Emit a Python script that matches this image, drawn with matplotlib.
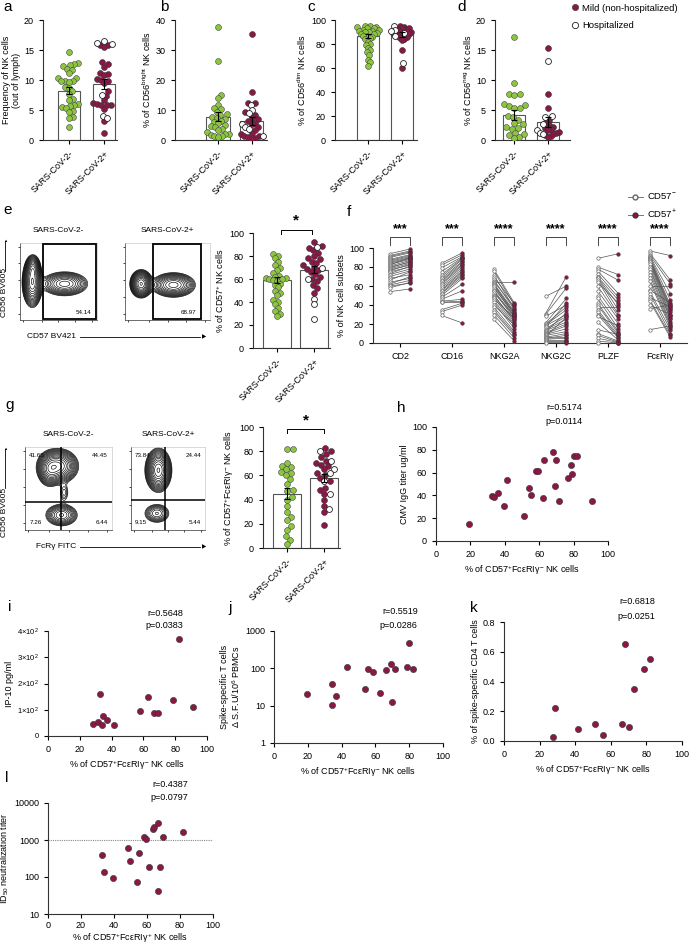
import numpy as np
import matplotlib
matplotlib.use("Agg")
import matplotlib.pyplot as plt
from matplotlib.lines import Line2D
from matplotlib.patches import Rectangle

plt.rcParams.update({
    "font.family": ["Liberation Sans", "DejaVu Sans"],
    "mathtext.fontset": "custom",
    "mathtext.rm": "Liberation Sans",
    "mathtext.default": "regular",
    "font.size": 6.5,
    "axes.linewidth": 0.8,
    "axes.edgecolor": "#333333",
    "xtick.major.width": 0.8,
    "ytick.major.width": 0.8,
    "xtick.major.size": 3,
    "ytick.major.size": 3,
    "xtick.labelsize": 6.5,
    "ytick.labelsize": 6.5,
    "axes.spines.top": False,
    "axes.spines.right": False,
})

GREEN = "#8CC63F"
MAROON = "#8A1846"
W, H = 689, 944

groups = ["SARS-CoV-2-", "SARS-CoV-2+"]

# ---- panel a: frequency of NK cells
a_neg = [14.6, 12.8, 12.7, 12.5, 12.3, 11.9, 11.6, 11.1, 10.4, 10.3, 9.9, 9.9, 9.8, 9.7, 8.8,
         8.7, 8.1, 7.6, 6.8, 6.6, 6.0, 5.9, 5.6, 5.5, 5.4, 4.9, 4.7, 3.9, 3.6, 2.1]
a_mild = [15.9, 15.9, 15.5, 13.0, 12.6, 12.2, 11.2, 11.0, 10.8, 10.2, 10.0, 9.8, 9.5, 8.2,
          7.4, 6.6, 6.1, 6.0, 5.9, 5.8, 5.8, 5.2, 3.1, 1.1]
a_hosp = [16.5, 16.2, 16.0, 7.5, 4.0, 3.6]
a_means = [8.2, 9.3]

# ---- panel b: CD56 bright
b_neg = [37.8, 26.2, 15.1, 14.0, 11.8, 10.6, 10.2, 9.5, 8.6, 8.3, 7.7, 7.4, 7.0, 6.5, 6.0,
         5.6, 5.0, 4.6, 4.2, 3.8, 3.3, 2.6, 2.1, 1.9, 1.7, 1.5, 1.2, 0.9]
b_mild = [35.5, 16.0, 12.4, 12.2, 9.5, 8.5, 7.5, 7.0, 6.2, 5.8, 5.2, 4.5, 3.5, 2.5, 2.0,
          1.5, 1.2, 1.0, 0.8, 0.5]
b_hosp = [11.8, 10.0, 8.9, 5.3, 4.2, 3.8, 1.5]
b_means = [7.8, 6.2]

# ---- panel c: CD56 dim
c_neg = [95, 95, 94, 94, 93, 93, 92, 92, 91, 91, 90, 90, 89, 88, 88, 87, 87, 86, 85, 84,
         82, 80, 79, 77, 75, 73, 71, 67, 65, 62]
c_mild = [95, 94, 93, 93, 92, 91, 90, 90, 89, 88, 88, 87, 86, 85, 84, 83, 75, 60]
c_hosp = [95, 92, 91, 89, 87, 64]
c_means = [87, 88]

# ---- panel d: CD56 neg
d_neg = [17.1, 9.5, 7.7, 7.6, 7.5, 6.0, 5.8, 5.6, 5.4, 5.3, 4.0, 3.8, 3.4, 2.8, 2.6, 2.2,
         2.0, 1.9, 1.2, 1.0, 0.8, 0.5, 0.3]
d_mild = [15.4, 7.6, 5.3, 3.4, 3.0, 2.5, 2.2, 2.0, 1.8, 1.6, 1.3, 1.2, 1.0, 0.8, 0.7, 0.5]
d_hosp = [13.1, 4.0, 3.8, 2.6, 1.6, 1.2, 1.0]
d_means = [4.2, 3.0]

# ---- panel e: CD57+ NK cells
e_neg = [82, 80, 78, 75, 72, 70, 68, 65, 63, 62, 61, 61, 60, 60, 59, 58, 56, 55, 53, 50,
         48, 46, 42, 40, 38, 35, 32, 30, 28]
e_mild = [92, 89, 87, 85, 83, 80, 78, 77, 75, 74, 72, 70, 69, 68, 66, 64, 62, 60, 58, 55,
          52, 48]
e_hosp = [88, 70, 60, 43, 38, 25]
e_means = [59, 68]

# ---- panel g: CD57+ FceRIg- NK cells
g_neg = [82, 82, 70, 68, 67, 65, 63, 62, 60, 57, 53, 48, 47, 42, 40, 35, 30, 26, 23, 18,
         15, 10, 7, 3]
g_mild = [83, 80, 78, 75, 72, 70, 69, 68, 65, 62, 60, 58, 55, 50, 48, 45, 40, 35, 30, 19]
g_hosp = [80, 72, 65, 62, 55, 45, 32]
g_means = [45, 58]

# ---- panel f: paired CD57- / CD57+ subsets
f_markers = ["CD2", "CD16", "NKG2A", "NKG2C", "PLZF", "FcεRIγ"]
f_stars = ["***", "***", "****", "****", "****", "****"]
f_neg = [
    [94, 92, 91, 90, 88, 87, 86, 85, 84, 83, 82, 81, 80, 79, 78, 77, 76, 75, 73, 72, 70, 68,
     66, 64, 62, 61, 60, 58, 54],
    [84, 82, 79, 75, 72, 70, 68, 66, 65, 63, 62, 60, 58, 56, 55, 53, 52, 50, 48, 46, 44, 43,
     43, 35, 33, 29],
    [78, 76, 72, 70, 67, 65, 64, 63, 62, 61, 60, 58, 56, 55, 53, 51, 50, 48, 47, 45, 43, 40,
     38, 35, 33, 30, 25],
    [49, 31, 30, 28, 21, 20, 19, 18, 17, 15, 14, 13, 12, 11, 10, 9, 8, 7, 6, 5, 5, 4, 3, 2,
     1, 0.5],
    [89, 80, 78, 76, 73, 70, 69, 68, 66, 64, 60, 55, 50, 47, 42, 40, 38, 35, 33, 30, 28, 22,
     14, 10, 8, 5, 2, 0],
    [97, 95, 93, 92, 91, 90, 89, 88, 87, 86, 85, 83, 80, 78, 75, 72, 68, 65, 60, 56, 55, 52,
     48, 46, 44, 40, 36, 14],
]
f_pos = [
    [99, 97, 96, 95, 93, 92, 91, 90, 89, 88, 90, 87, 85, 86, 84, 82, 83, 80, 81, 78, 76, 72,
     75, 68, 70, 66, 63, 64, 57],
    [95, 93, 91, 90, 89, 88, 86, 85, 83, 82, 80, 78, 76, 75, 73, 72, 70, 68, 62, 55, 46, 44,
     43, 42, 40, 21],
    [42, 40, 36, 41, 35, 38, 64, 33, 30, 32, 28, 31, 27, 25, 29, 22, 24, 20, 26, 18, 15, 19,
     12, 10, 8, 5, 2],
    [60, 70, 58, 40, 47, 38, 35, 30, 42, 28, 25, 22, 32, 20, 18, 15, 12, 27, 10, 8, 6, 5, 3,
     2, 1, 0.5],
    [94, 72, 66, 52, 48, 45, 40, 35, 30, 42, 28, 25, 20, 15, 12, 10, 38, 8, 6, 5, 18, 3, 9,
     2, 1, 0.5, 0, 0],
    [92, 66, 62, 52, 45, 40, 38, 36, 35, 33, 30, 28, 26, 25, 22, 20, 18, 16, 60, 42, 14, 10,
     38, 8, 6, 30, 40, 18],
]

# ---- correlation panels
h_x = [19, 32.6, 33.9, 36, 39.3, 41.5, 51, 53.9, 55.2, 58.3, 59.5, 62.8, 62.2, 67.8, 69.4,
       70, 71.7, 76.6, 78.7, 79.1, 80, 82, 90.9]
h_y = [15.1, 39.8, 38.4, 42.2, 31.1, 53.2, 22.1, 46.5, 40.1, 61.6, 61, 70.9, 37.8, 77.9,
       48.3, 70.9, 35.2, 54.9, 66.9, 59, 75, 75, 35.2]
i_x = [28.1, 31.2, 32.5, 33.8, 34.4, 36.9, 41.5, 58.1, 62.9, 66.5, 69.4, 78.8, 82.2, 91]
i_y = [44, 53, 161, 42, 77, 62, 41, 95, 149, 88, 89, 137, 368, 110]
j_x = [19.3, 34.1, 34.1, 36.5, 43, 54, 55.4, 58.4, 62.9, 66.4, 69.4, 70, 71.8, 78.7, 79.7, 82.1]
j_y = [20, 10.7, 39, 18.7, 109, 28, 98, 80, 22.4, 87.5, 129, 12.3, 95, 109, 470, 95]
k_x = [27.8, 28.7, 41.7, 51.4, 55.5, 66.2, 68.1, 70.2, 72.8, 78.8, 82.2]
k_y = [0.027, 0.224, 0.078, 0.112, 0.038, 0.117, 0.655, 0.092, 0.352, 0.484, 0.549]
l_x = [33, 34, 39.6, 48.7, 49.9, 54.1, 55.3, 58.1, 59.2, 61, 63.8, 64.4, 66.6, 66.6, 68,
       69.6, 82.1]
l_y = [405, 136, 95, 627, 274, 73, 432, 1240, 1096, 185, 2037, 2306, 2897, 42, 185, 1214, 1656]

stats = {"h": ("r=0.5174", "p=0.0114"), "i": ("r=0.5648", "p=0.0383"),
         "j": ("r=0.5519", "p=0.0286"), "k": ("r=0.6818", "p=0.0251"),
         "l": ("r=0.4387", "p=0.0797")}

# ---- flow cytometry contour blobs: (cx, cy, sx, sy, weight) in frame units
e_flow = [
    [(0.16, 0.49, 0.055, 0.135, 1.0), (0.17, 0.68, 0.04, 0.07, 0.4), (0.58, 0.47, 0.14, 0.073, 0.5)],
    [(0.19, 0.47, 0.055, 0.076, 1.0), (0.57, 0.455, 0.116, 0.072, 0.6)],
]
e_gates = [(0.3, 0.985), (0.33, 0.9)]
e_pct = ["54.14", "68.97"]
g_flow = [
    [(0.38, 0.77, 0.1, 0.09, 1.0), (0.28, 0.72, 0.06, 0.09, 0.5), (0.42, 0.18, 0.09, 0.065, 0.45),
     (0.45, 0.45, 0.035, 0.07, 0.12)],
    [(0.37, 0.72, 0.075, 0.11, 1.0), (0.35, 0.2, 0.09, 0.06, 0.25)],
]
g_quads = [(0.41, 0.34), (0.46, 0.36)]
g_pct = [["41.65", "44.45", "7.26", "6.44"], ["73.84", "24.44", "9.15", "5.44"]]


def add_px(fig, l, t, r, b):
    return fig.add_axes([l / W, 1 - b / H, (r - l) / W, (b - t) / H])


def swarm(ax, y, diam=5.6, max_half=11.0):
    y = np.asarray(y, dtype=float)
    ys = ax.transData.transform(np.column_stack([np.zeros(len(y)), y]))[:, 1]
    xppu = ax.transData.transform((1, 0))[0] - ax.transData.transform((0, 0))[0]
    placed = []
    offs = np.zeros(len(y))
    for i in np.argsort(ys):
        cands = [0.0]
        for px, py in placed:
            dy = ys[i] - py
            if abs(dy) < diam:
                dx = np.sqrt(diam ** 2 - dy ** 2)
                cands += [px + dx, px - dx]
        cands.sort(key=abs)
        for c in cands:
            if all((c - px) ** 2 + (ys[i] - py) ** 2 >= diam ** 2 - 1e-6 for px, py in placed):
                break
        placed.append((c, ys[i]))
        offs[i] = c
    widest = np.abs(offs).max()
    if widest > max_half:
        offs = offs * max_half / widest
    return offs / xppu


def dot_bar(ax, neg, mild, hosp, means, ymax, ystep, ylabel, xlim, width, max_half=11.0):
    ax.set_xlim(*xlim)
    ax.set_ylim(0, ymax)
    ax.set_yticks(np.arange(0, ymax + 0.1, ystep))
    pos = np.concatenate([mild, hosp])
    data = [np.asarray(neg, float), pos]
    for i in range(2):
        ax.bar(i, means[i], width=width, color="white", edgecolor="#555555", lw=0.8, zorder=1)
        sem = data[i].std(ddof=1) / np.sqrt(len(data[i]))
        ax.errorbar(i, means[i], yerr=sem, color="black", capsize=2, lw=0.8, capthick=0.8, zorder=4)
    o0 = swarm(ax, data[0], max_half=max_half)
    ax.scatter(o0, data[0], s=18, c=GREEN, edgecolors="#444444", linewidths=0.4, zorder=3)
    o1 = swarm(ax, pos, max_half=max_half)
    n = len(mild)
    ax.scatter(1 + o1[:n], mild, s=18, c=MAROON, edgecolors="#333333", linewidths=0.4, zorder=3)
    ax.scatter(1 + o1[n:], hosp, s=18, facecolors="white", edgecolors="#222222", linewidths=0.6, zorder=3)
    ax.set_xticks([0, 1])
    ax.set_xticklabels(groups, rotation=45, ha="right", rotation_mode="anchor")
    ax.set_ylabel(ylabel, labelpad=2)


def flow(ax, blobs, title):
    gx, gy = np.meshgrid(np.linspace(0, 1, 240), np.linspace(0, 1, 240))
    z = np.zeros_like(gx)
    for cx, cy, sx, sy, w in blobs:
        z += w * np.exp(-((gx - cx) ** 2 / (2 * sx ** 2) + (gy - cy) ** 2 / (2 * sy ** 2)))
    ax.contour(gx, gy, z, levels=np.geomspace(z.max() * 0.05, z.max() * 0.97, 16),
               colors="black", linewidths=0.45)
    ax.set_xlim(0, 1)
    ax.set_ylim(0, 1)
    ax.set_xticks([0.04, 0.28, 0.5, 0.72, 0.94])
    ax.set_yticks([0.08, 0.3, 0.52, 0.74, 0.95])
    ax.set_xticklabels([])
    ax.set_yticklabels([])
    ax.tick_params(length=1.5, width=0.5)
    for s in ["top", "right"]:
        ax.spines[s].set_visible(True)
        ax.spines[s].set_color("#bbbbbb")
        ax.spines[s].set_linewidth(0.4)
    for s in ["left", "bottom"]:
        ax.spines[s].set_linewidth(0.5)
    ax.set_title(title, fontsize=6, pad=8)


def corr(ax, x, y, key, ylabel, xlabel):
    ax.scatter(x, y, s=20, c=MAROON, edgecolors="#333333", linewidths=0.4, zorder=3, clip_on=False)
    ax.set_xlim(0, 100)
    ax.set_xticks(range(0, 101, 20))
    ax.set_ylabel(ylabel, labelpad=2)
    ax.set_xlabel(xlabel, labelpad=3)
    r, p = stats[key]
    ax.text(0.85, 1.17, r, transform=ax.transAxes, ha="right", va="center", fontsize=6.5)
    ax.text(0.85, 1.05, p, transform=ax.transAxes, ha="right", va="center", fontsize=6.5)


fig = plt.figure(figsize=(W / 100, H / 100), dpi=100)

letters = {"a": (3, 7), "b": (160, 7), "c": (307, 7), "d": (457, 7), "e": (3, 210),
           "f": (347, 212), "g": (5, 405), "h": (397, 408), "i": (8, 607), "j": (228, 608),
           "k": (470, 608), "l": (5, 778)}
for k, (x, y) in letters.items():
    fig.text(x / W, 1 - y / H, k, fontsize=11, va="center", ha="left")

# top row
ax = add_px(fig, 43, 20, 117, 140)
dot_bar(ax, a_neg, a_mild, a_hosp, a_means, 20, 5, "Frequency of NK cells\n(out of lymph)", (-0.74, 1.37), 0.63)
ax = add_px(fig, 175, 20, 267, 140)
dot_bar(ax, b_neg, b_mild, b_hosp, b_means, 40, 10, "% of CD56$^{bright}$ NK cells", (-1.28, 1.46), 0.7)
ax = add_px(fig, 335, 20, 417, 140)
dot_bar(ax, c_neg, c_mild, c_hosp, c_means, 100, 20, "% of CD56$^{dim}$ NK cells", (-0.97, 1.44), 0.65)
ax = add_px(fig, 495, 20, 570, 140)
dot_bar(ax, d_neg, d_mild, d_hosp, d_means, 20, 5, "% of CD56$^{neg}$ NK cells", (-0.56, 1.65), 0.65)

leg_h = [Line2D([], [], marker="o", ls="", mfc=MAROON, mec="#333333", mew=0.4, ms=4.5),
         Line2D([], [], marker="o", ls="", mfc="white", mec="#222222", mew=0.6, ms=4.5)]
fig.legend(leg_h, ["Mild (non-hospitalized)", "Hospitalized"], loc="upper left",
           bbox_to_anchor=(566 / W, 1 - 0 / H), frameon=False, fontsize=6.8,
           handletextpad=0.3, labelspacing=0.9, borderaxespad=0, handlelength=1)

# panel e flow
for i, (l, r) in enumerate([(20, 97), (125, 210)]):
    ax = add_px(fig, l, 243, r, 320)
    flow(ax, e_flow[i], groups[i])
    gx0, gx1 = e_gates[i]
    ax.add_patch(Rectangle((gx0, 0.015), gx1 - gx0, 0.97, fill=False, lw=1.3, ec="black", zorder=5))
    ax.text(gx1 - 0.06, 0.07, e_pct[i], ha="right", va="bottom", fontsize=4.5)

fig.text(5 / W, 1 - 292 / H, "CD56 BV605", rotation=90, ha="center", va="center", fontsize=6)
fig.add_artist(plt.Line2D([5 / W, 5 / W], [1 - 271 / H, 1 - 241 / H], color="black", lw=0.6))
fig.text(5 / W, 1 - 241 / H, "▲", ha="center", va="center", fontsize=3)
fig.text(27 / W, 1 - 337 / H, "CD57 BV421", ha="left", va="center", fontsize=6)
fig.add_artist(plt.Line2D([80 / W, 200 / W], [1 - 337 / H, 1 - 337 / H], color="black", lw=0.6))
fig.text(204 / W, 1 - 337 / H, "▶", ha="center", va="center", fontsize=4)

ax = add_px(fig, 253, 233, 330, 348)
dot_bar(ax, e_neg, e_mild, e_hosp, e_means, 100, 20, "% of CD57$^{+}$ NK cells", (-0.65, 1.43), 0.75)
ax.plot([0.1, 0.1, 0.95, 0.95], [99, 103, 103, 99], color="black", lw=0.7, clip_on=False)
ax.text(0.52, 105, "*", ha="center", va="bottom", fontsize=11, fontweight="bold")

# panel f
ax = add_px(fig, 373, 248, 687, 343)
ax.set_xlim(-0.52, 5.52)
ax.set_ylim(0, 100)
ax.set_yticks(range(0, 101, 20))
for i in range(6):
    nv, pv = f_neg[i], f_pos[i]
    for a_, b_ in zip(nv, pv):
        ax.plot([i - 0.2, i + 0.2], [a_, b_], color="#555555", lw=0.5, zorder=1, clip_on=False)
    ax.scatter(np.full(len(nv), i - 0.2), nv, s=6, facecolors="white", edgecolors="#666666",
               linewidths=0.5, zorder=3, clip_on=False)
    ax.scatter(np.full(len(pv), i + 0.2), pv, s=7, c=MAROON, edgecolors="#333333",
               linewidths=0.3, zorder=3, clip_on=False)
    ax.plot([i - 0.2, i - 0.2, i + 0.2, i + 0.2], [103, 112, 112, 103], color="#444444",
            lw=0.7, clip_on=False)
    ax.text(i, 113, f_stars[i], ha="center", va="bottom", fontsize=9, fontweight="bold")
ax.set_xticks(range(6))
ax.set_xticklabels(f_markers)
ax.set_ylabel("% of NK cell subsets", labelpad=2)
f_h = [Line2D([], [], marker="o", color="#777777", lw=0.7, mfc="white", mec="#666666", ms=3.5),
       Line2D([], [], marker="o", color="#777777", lw=0.7, mfc=MAROON, mec="#333333", ms=3.5)]
fig.legend(f_h, ["CD57$^{-}$", "CD57$^{+}$"], loc="upper left", bbox_to_anchor=(624 / W, 1 - 188 / H),
           frameon=False, fontsize=6.8, handletextpad=0.4, labelspacing=0.6, borderaxespad=0,
           handlelength=1.6)

# panel g flow
for i, (l, r) in enumerate([(25, 112), (131, 205)]):
    ax = add_px(fig, l, 447, r, 530)
    flow(ax, g_flow[i], groups[i])
    qx, qy = g_quads[i]
    ax.axvline(qx, color="black", lw=1.1, zorder=5)
    ax.axhline(qy, color="black", lw=1.1, zorder=5)
    tl, tr, bl, br = g_pct[i]
    ax.text(0.05, 0.93, tl, ha="left", va="top", fontsize=4.5)
    ax.text(0.95, 0.93, tr, ha="right", va="top", fontsize=4.5)
    ax.text(0.05, 0.06, bl, ha="left", va="bottom", fontsize=4.5)
    ax.text(0.95, 0.06, br, ha="right", va="bottom", fontsize=4.5)

fig.text(5 / W, 1 - 512 / H, "CD56 BV605", rotation=90, ha="center", va="center", fontsize=6)
fig.add_artist(plt.Line2D([5 / W, 5 / W], [1 - 488 / H, 1 - 449 / H], color="black", lw=0.6))
fig.text(5 / W, 1 - 449 / H, "▲", ha="center", va="center", fontsize=3)
fig.text(36 / W, 1 - 547 / H, "FcRγ FITC", ha="left", va="center", fontsize=6)
fig.add_artist(plt.Line2D([80 / W, 200 / W], [1 - 547 / H, 1 - 547 / H], color="black", lw=0.6))
fig.text(204 / W, 1 - 547 / H, "▶", ha="center", va="center", fontsize=4)

ax = add_px(fig, 263, 427, 340, 548)
dot_bar(ax, g_neg, g_mild, g_hosp, g_means, 100, 20, "% of CD57$^{+}$FcεRIγ$^{-}$ NK cells",
        (-0.65, 1.43), 0.75)
ax.plot([0.0, 0.0, 1.0, 1.0], [95, 98, 98, 95], color="black", lw=0.7, clip_on=False)
ax.text(0.5, 100, "*", ha="center", va="bottom", fontsize=11, fontweight="bold")

# correlations
xl_neg = "% of CD57$^{+}$FcεRIγ$^{-}$ NK cells"
ax = add_px(fig, 436, 427, 608, 541)
corr(ax, h_x, h_y, "h", "CMV IgG titer ug/ml", xl_neg)
ax.set_ylim(0, 100)
ax.set_yticks(range(0, 101, 20))

ax = add_px(fig, 48, 631, 207, 736)
corr(ax, i_x, i_y, "i", "IP-10 pg/ml", xl_neg)
ax.set_ylim(0, 400)
ax.set_yticks([0, 100, 200, 300, 400])
ax.set_yticklabels(["0", "1×10$^{2}$", "2×10$^{2}$", "3×10$^{2}$", "4×10$^{2}$"])
ax.tick_params(axis="y", labelsize=5.5)

ax = add_px(fig, 274, 631, 443, 743)
corr(ax, j_x, j_y, "j", "Spike-specific T cells\nΔ S.F.U/10$^{6}$ PBMCs", xl_neg)
ax.set_yscale("log")
ax.set_ylim(1, 1000)
ax.set_yticks([1, 10, 100, 1000])
ax.set_yticklabels(["1", "10", "100", "1000"])
ax.minorticks_off()

ax = add_px(fig, 504, 622, 682, 741)
corr(ax, k_x, k_y, "k", "% of spike-specific CD4 T cells", xl_neg)
ax.set_ylim(0, 0.8)
ax.set_yticks([0, 0.2, 0.4, 0.6, 0.8])
ax.set_yticklabels(["0.0", "0.2", "0.4", "0.6", "0.8"])

ax = add_px(fig, 48, 803, 213, 914)
corr(ax, l_x, l_y, "l", "ID$_{50}$ neutralization titer", "% of CD57$^{+}$FcεRIγ$^{+}$ NK cells")
ax.set_yscale("log")
ax.set_ylim(10, 10000)
ax.set_yticks([10, 100, 1000, 10000])
ax.set_yticklabels(["10", "100", "1000", "10000"])
ax.minorticks_off()
ax.tick_params(axis="x", pad=2)
ax.xaxis.labelpad = 1
ax.axhline(1000, color="#888888", lw=0.8, ls=(0, (1, 1)), zorder=1)

fig.savefig("out.png", dpi=100)
